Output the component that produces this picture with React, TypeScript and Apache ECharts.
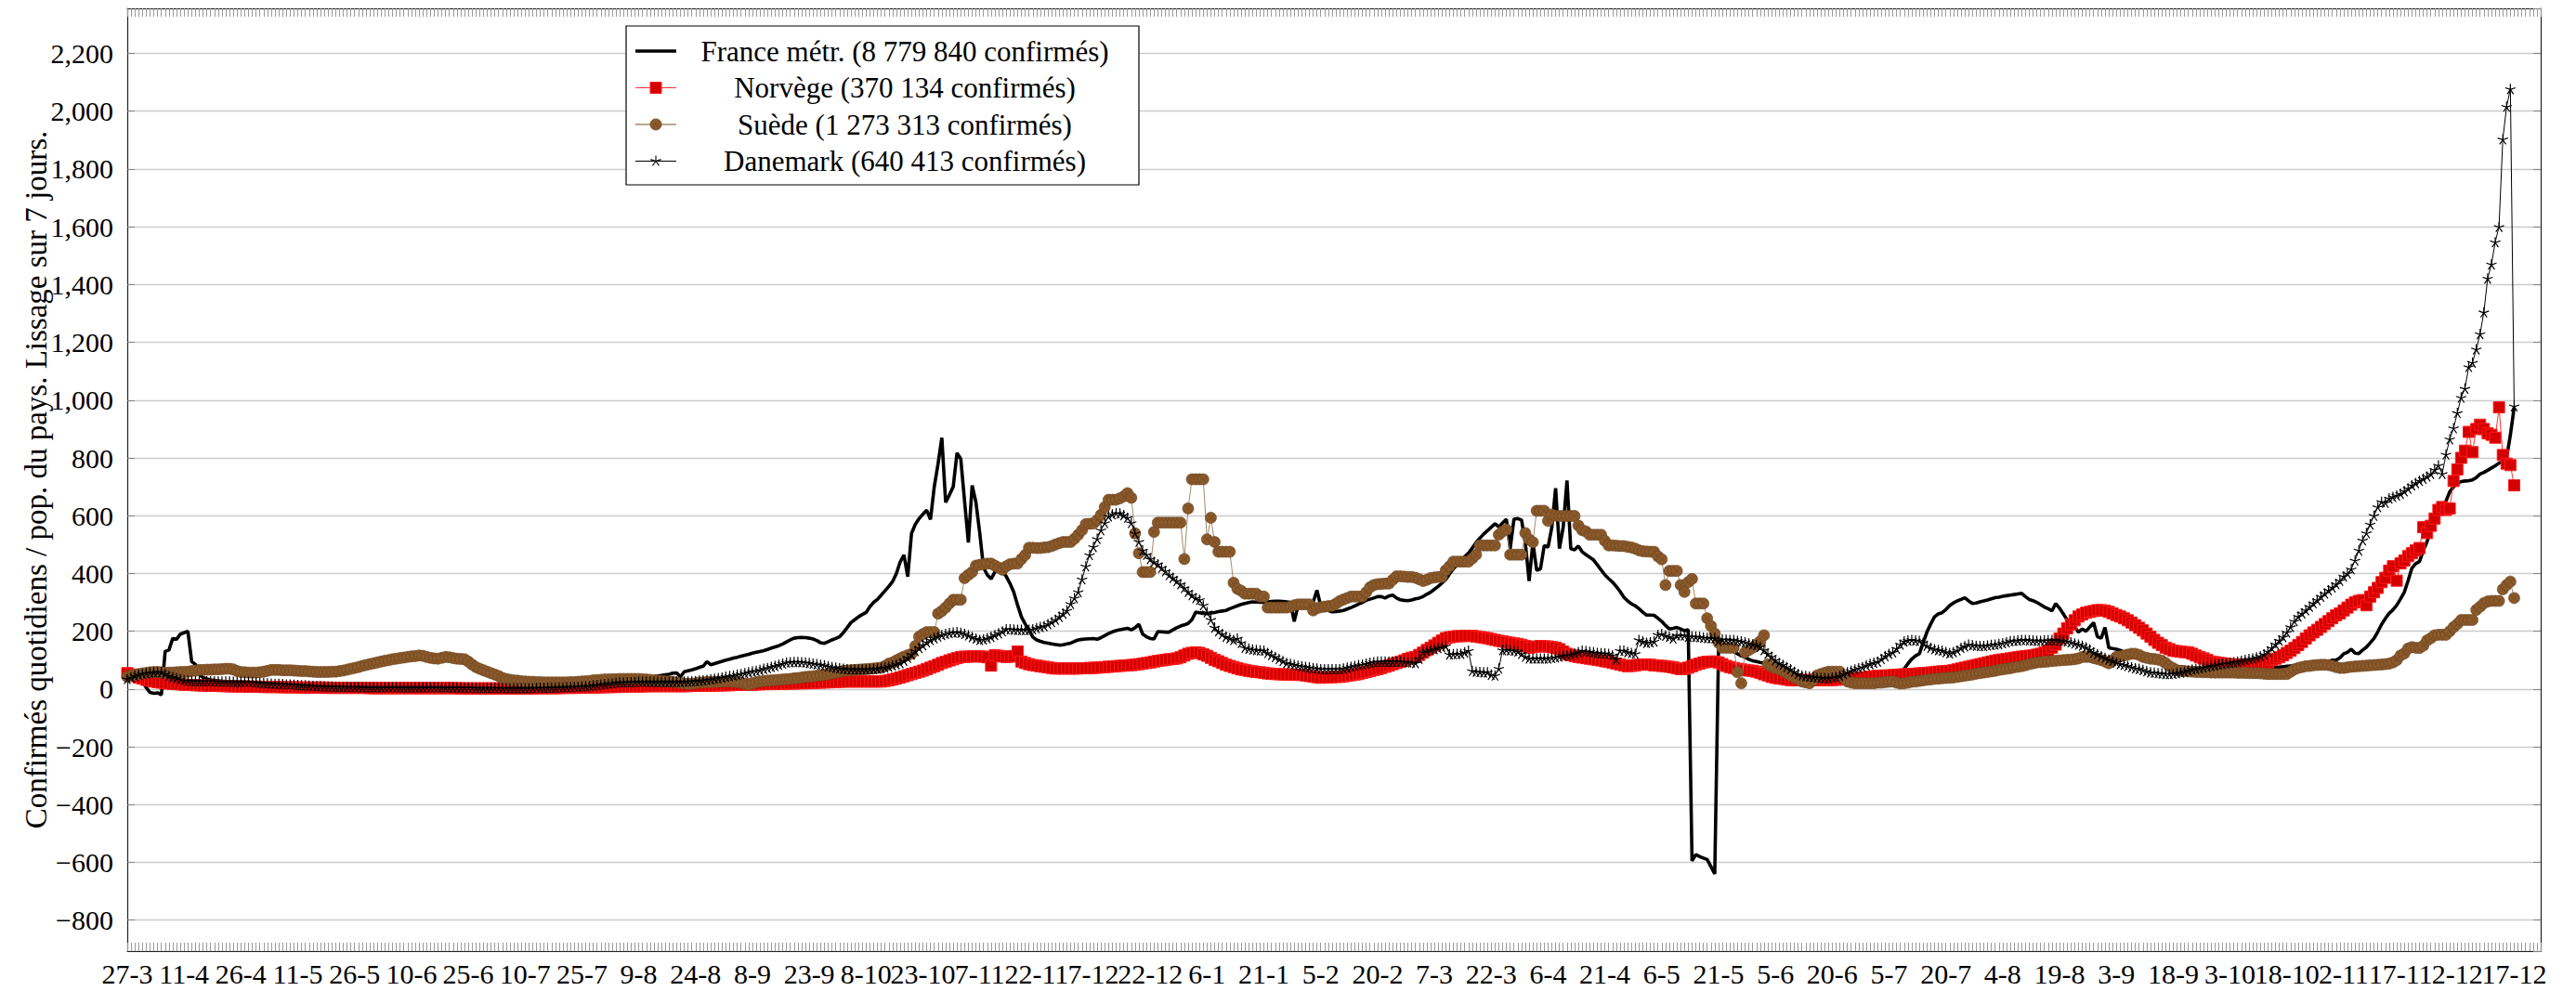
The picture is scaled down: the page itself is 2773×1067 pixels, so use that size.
import React, { useEffect, useRef } from "react";
import * as echarts from "echarts";

// ---------- categories (daily, from 27-3-2020) ----------
const START_UTC = Date.UTC(2020, 2, 27);
const AXIS_DAYS = 638;
const LABEL_EVERY = 15;
const dayLabels: string[] = Array.from({ length: AXIS_DAYS }, (_, i) => {
  const d = new Date(START_UTC + i * 86400000);
  return `${d.getUTCDate()}-${d.getUTCMonth() + 1}`;
});

const seriesNames = [
  "France métr. (8 779 840 confirmés)",
  "Norvège (370 134 confirmés)",
  "Suède (1 273 313 confirmés)",
  "Danemark (640 413 confirmés)",
];
const yAxisTitle = "Confirmés quotidiens / pop. du pays. Lissage sur 7 jours.";

// ---------- series values (one per day, day 0 = 27-3-2020) ----------
const franceValues = [
  50, 62, 45, 30, 25, 5, -12, -15, -13, -20,
  130, 135, 175, 172, 190, 195, 200, 95, 85, 50,
  40, 35, 32, 30, 28, 27, 26, 25, 24, 23,
  22, 21, 20, 20, 19, 18, 18, 17, 16, 16,
  15, 14, 14, 13, 12, 12, 11, 11, 10, 10,
  9, 9, 8, 8, 8, 7, 7, 7, 7, 6,
  6, 6, 6, 6, 6, 6, 6, 5, 5, 5,
  5, 5, 5, 5, 5, 5, 6, 6, 6, 6,
  6, 6, 6, 6, 6, 6, 6, 6, 6, 6,
  7, 7, 7, 7, 8, 8, 8, 8, 9, 9,
  9, 10, 10, 10, 11, 11, 12, 12, 12, 13,
  13, 14, 14, 15, 15, 16, 17, 17, 18, 19,
  20, 21, 22, 23, 24, 25, 26, 27, 28, 29,
  30, 31, 32, 34, 35, 37, 38, 40, 42, 43,
  45, 47, 49, 51, 55, 56, 42, 60, 63, 66,
  70, 75, 79, 95, 84, 88, 92, 96, 100, 103,
  107, 110, 114, 117, 120, 124, 127, 130, 133, 137,
  142, 146, 150, 156, 163, 170, 176, 178, 179, 178,
  176, 173, 168, 160, 158, 164, 170, 175, 181, 195,
  212, 230, 240, 250, 258, 265, 285, 300, 310, 325,
  340, 355, 372, 400, 440, 464, 389, 539, 570, 590,
  605, 619, 587, 700, 780, 870, 646, 672, 700, 817,
  796, 650, 507, 705, 646, 540, 420, 395, 381, 405,
  416, 405, 390, 365, 335, 290, 250, 225, 205, 180,
  170, 165, 161, 159, 156, 154, 152, 153, 156, 159,
  165, 170, 172, 173, 174, 175, 172, 178, 185, 192,
  198, 202, 205, 208, 210, 205, 212, 224, 190, 181,
  175, 173, 199, 198, 197, 197, 205, 212, 218, 222,
  227, 240, 266, 264, 262, 261, 263, 265, 268, 270,
  272, 278, 283, 288, 293, 296, 299, 302, 301, 300,
  300, 302, 303, 304, 304, 303, 302, 300, 234, 288,
  290, 290, 295, 300, 342, 288, 280, 272, 267, 268,
  270, 272, 277, 282, 288, 294, 300, 307, 311, 315,
  320, 320, 315, 322, 325, 315, 309, 307, 306, 308,
  312, 315, 320, 328, 335, 345, 355, 367, 379, 398,
  416, 430, 443, 458, 470, 488, 507, 522, 536, 548,
  560, 572, 561, 575, 588, 486, 588, 590, 585, 507,
  374, 507, 411, 416, 497, 491, 560, 695, 486, 560,
  722, 486, 482, 495, 475, 465, 456, 447, 430, 412,
  395, 382, 370, 355, 338, 318, 305, 295, 288, 278,
  266, 256, 256, 255, 245, 234, 220, 208, 210, 213,
  208, 202, 205, -595, -573, -580, -585, -590, -615, -640,
  135, 140, 140, 135, 130, 122, 115, 110, 103, 98,
  95, 92, 90, 85, 80, 76, 70, 62, 55, 48,
  44, 40, 38, 37, 36, 36, 35, 35, 35, 36,
  36, 36, 37, 37, 38, 38, 39, 40, 41, 43,
  45, 47, 50, 52, 54, 55, 57, 57, 55, 70,
  88, 104, 115, 122, 160, 197, 225, 250, 260, 264,
  275, 289, 298, 305, 310, 316, 305, 296, 298, 302,
  305, 308, 312, 316, 318, 321, 323, 325, 327, 329,
  331, 320, 310, 306, 300, 292, 284, 278, 271, 296,
  280, 260, 240, 232, 215, 197, 208, 200, 215, 230,
  181, 176, 213, 143, 140, 138, 134, 128, 125, 122,
  119, 117, 114, 111, 107, 103, 99, 95, 90, 84,
  81, 78, 77, 75, 73, 72, 71, 70, 69, 69,
  68, 68, 68, 68, 68, 69, 69, 69, 70, 70,
  70, 71, 71, 72, 72, 73, 74, 75, 76, 77,
  79, 80, 81, 82, 83, 84, 85, 86, 87, 88,
  90, 95, 100, 100, 108, 122, 127, 138, 124, 123,
  135, 145, 160, 175, 198, 224, 244, 262, 274, 290,
  312, 335, 375, 418, 434, 441, 479, 510, 550, 585,
  608, 630, 650, 683, 700, 712, 718, 720, 721, 724,
  732, 744, 750, 757, 765, 773, 782, 787, 800, 880,
  975,
];

const norwayValues = [
  55, 50, 45, 40, 36, 32, 29, 26, 24, 22,
  20, 19, 18, 17, 16, 15, 14, 14, 13, 13,
  12, 12, 11, 11, 11, 10, 10, 10, 9, 9,
  9, 9, 8, 8, 8, 8, 7, 7, 7, 7,
  7, 6, 6, 6, 6, 6, 5, 5, 5, 5,
  5, 5, 5, 4, 4, 4, 4, 4, 4, 4,
  4, 4, 4, 4, 3, 3, 3, 3, 3, 3,
  3, 3, 3, 3, 3, 3, 3, 3, 3, 3,
  3, 3, 3, 3, 3, 3, 3, 3, 2, 2,
  2, 2, 2, 2, 2, 2, 2, 2, 2, 2,
  2, 2, 2, 2, 2, 2, 2, 2, 3, 3,
  3, 3, 3, 3, 3, 4, 4, 4, 4, 4,
  5, 5, 5, 5, 6, 6, 6, 7, 7, 7,
  8, 8, 8, 9, 9, 9, 9, 10, 10, 10,
  10, 10, 10, 10, 10, 10, 10, 10, 10, 11,
  11, 11, 11, 12, 12, 12, 12, 13, 13, 13,
  14, 14, 14, 15, 15, 15, 16, 16, 17, 17,
  17, 18, 18, 18, 19, 19, 19, 20, 20, 20,
  21, 21, 22, 22, 23, 23, 24, 24, 25, 26,
  26, 26, 26, 26, 26, 26, 26, 26, 26, 26,
  28, 30, 33, 36, 40, 44, 48, 52, 56, 60,
  64, 69, 74, 79, 84, 90, 94, 99, 103, 107,
  111, 112, 112, 113, 113, 113, 112, 110, 81, 117,
  115, 113, 111, 112, 114, 130, 95, 90, 86, 83,
  81, 79, 77, 75, 73, 71, 71, 71, 71, 71,
  71, 71, 72, 72, 73, 73, 74, 75, 76, 77,
  78, 79, 80, 81, 82, 83, 84, 86, 88, 90,
  92, 95, 97, 99, 101, 103, 104, 106, 110, 116,
  122, 125, 127, 125, 120, 115, 108, 101, 96, 90,
  84, 80, 76, 72, 68, 66, 63, 61, 59, 58,
  56, 54, 53, 52, 51, 51, 50, 50, 49, 49,
  49, 47, 45, 43, 41, 39, 40, 41, 41, 42,
  42, 44, 46, 48, 50, 52, 56, 59, 62, 66,
  69, 73, 77, 81, 86, 90, 94, 99, 104, 108,
  111, 118, 126, 135, 143, 151, 160, 168, 176, 179,
  181, 183, 183, 184, 184, 184, 182, 180, 178, 176,
  173, 170, 167, 165, 162, 160, 158, 156, 153, 149,
  143, 145, 147, 149, 148, 147, 145, 143, 138, 130,
  122, 117, 114, 111, 109, 107, 105, 103, 101, 99,
  96, 94, 91, 88, 85, 82, 79, 80, 82, 84,
  85, 85, 84, 82, 81, 80, 79, 77, 75, 72,
  69, 70, 74, 79, 84, 88, 92, 94, 95, 95,
  92, 86, 80, 76, 73, 70, 68, 66, 64, 63,
  60, 56, 51, 47, 42, 39, 37, 35, 33, 31,
  31, 31, 31, 31, 31, 31, 31, 31, 31, 31,
  31, 32, 33, 34, 35, 36, 37, 38, 40, 41,
  42, 44, 46, 46, 47, 47, 48, 49, 50, 51,
  52, 52, 53, 54, 55, 56, 57, 58, 60, 61,
  62, 63, 65, 68, 71, 74, 77, 80, 83, 86,
  89, 92, 95, 98, 100, 102, 104, 106, 108, 110,
  112, 114, 115, 116, 119, 122, 126, 133, 143, 154,
  175, 192, 210, 224, 238, 251, 258, 264, 267, 270,
  273, 273, 271, 267, 262, 256, 251, 245, 238, 230,
  221, 212, 203, 192, 181, 170, 160, 152, 143, 138,
  133, 131, 129, 128, 127, 122, 116, 111, 106, 101,
  95, 93, 91, 89, 87, 86, 85, 85, 84, 84,
  84, 85, 86, 88, 89, 92, 100, 105, 110, 117,
  125, 133, 142, 152, 163, 175, 186, 196, 205, 215,
  225, 235, 245, 255, 262, 272, 282, 292, 300, 305,
  308, 290, 320, 335, 350, 370, 385, 410, 425, 375,
  435, 445, 460, 470, 480, 488, 560, 540, 565, 590,
  620, 630, 620, 625, 720, 760, 800, 825, 890, 820,
  900, 915, 900, 885, 880, 870, 975, 810, 780, 775,
  705,
];

const swedenValues = [
  42, 46, 49, 52, 54, 56, 58, 59, 59, 58,
  57, 57, 57, 58, 59, 59, 60, 62, 64, 66,
  66, 67, 67, 68, 68, 69, 70, 70, 68, 62,
  59, 58, 57, 57, 57, 58, 60, 63, 66, 66,
  66, 65, 65, 65, 64, 63, 62, 62, 61, 60,
  59, 59, 59, 59, 60, 60, 62, 64, 67, 70,
  73, 76, 80, 83, 86, 89, 92, 95, 98, 100,
  103, 105, 107, 109, 111, 113, 114, 116, 115, 111,
  108, 106, 105, 108, 111, 110, 107, 105, 104, 103,
  95, 85, 76, 70, 65, 60, 55, 50, 45, 38,
  35, 32, 30, 29, 27, 26, 25, 25, 24, 24,
  23, 23, 23, 23, 23, 23, 23, 24, 24, 25,
  26, 27, 28, 30, 31, 32, 33, 33, 34, 34,
  35, 35, 35, 35, 35, 35, 34, 33, 32, 30,
  29, 28, 27, 26, 25, 23, 21, 19, 18, 18,
  20, 22, 23, 24, 24, 25, 25, 26, 26, 26,
  25, 24, 22, 18, 15, 20, 24, 26, 28, 29,
  30, 31, 32, 33, 34, 35, 37, 38, 40, 42,
  43, 44, 46, 47, 49, 51, 54, 57, 60, 63,
  64, 65, 66, 67, 68, 69, 70, 71, 73, 74,
  80, 88, 92, 99, 106, 112, 117, 122, 149, 181,
  190, 197, 197, 197, 261, 270, 282, 296, 309, 309,
  309, 384, 395, 405, 427, 430, 432, 434, 434, 427,
  420, 413, 425, 432, 434, 434, 450, 464, 489, 489,
  488, 488, 490, 491, 495, 500, 505, 509, 509, 509,
  520, 534, 550, 571, 572, 573, 585, 603, 630, 655,
  655, 655, 660, 667, 678, 662, 539, 470, 405, 405,
  405, 544, 576, 576, 576, 576, 576, 576, 576, 450,
  625, 726, 726, 726, 726, 518, 593, 509, 475, 475,
  475, 475, 368, 347, 340, 330, 330, 330, 330, 320,
  320, 282, 282, 282, 282, 282, 282, 285, 290, 293,
  293, 293, 293, 272, 280, 283, 285, 287, 288, 295,
  304, 310, 315, 320, 320, 320, 320, 335, 352, 360,
  363, 364, 365, 365, 378, 390, 390, 389, 388, 388,
  385, 380, 374, 378, 384, 386, 388, 388, 411, 425,
  441, 441, 441, 441, 441, 452, 465, 497, 497, 497,
  497, 497, 534, 545, 552, 465, 465, 465, 465, 540,
  518, 508, 617, 617, 617, 582, 604, 600, 599, 599,
  599, 599, 599, 566, 550, 545, 534, 534, 534, 534,
  513, 497, 497, 496, 495, 495, 492, 490, 486, 480,
  477, 476, 475, 475, 459, 449, 360, 409, 409, 409,
  360, 336, 370, 381, 296, 296, 296, 245, 218, 192,
  160, 143, 143, 143, 143, 58, 20, 127, 135, 143,
  155, 165, 186, 85, 78, 72, 69, 62, 54, 47,
  40, 33, 26, 23, 20, 30, 47, 52, 56, 60,
  60, 60, 60, 40, 26, 22, 20, 20, 20, 20,
  20, 20, 22, 22, 24, 25, 26, 22, 19, 20,
  22, 25, 26, 28, 30, 32, 33, 35, 36, 37,
  38, 39, 40, 42, 44, 46, 48, 50, 53, 55,
  57, 59, 61, 63, 66, 68, 70, 72, 75, 77,
  79, 82, 86, 89, 92, 93, 94, 95, 97, 98,
  99, 100, 101, 102, 103, 106, 111, 111, 111, 107,
  104, 100, 95, 89, 100, 111, 113, 116, 119, 122,
  122, 118, 111, 108, 105, 104, 102, 98, 90, 79,
  72, 65, 63, 62, 61, 60, 59, 59, 58, 58,
  57, 57, 57, 57, 57, 57, 57, 56, 56, 56,
  55, 55, 55, 54, 53, 52, 52, 52, 52, 52,
  52, 60, 68, 73, 76, 79, 80, 82, 83, 84,
  84, 83, 80, 76, 73, 73, 75, 77, 78, 79,
  80, 81, 82, 83, 84, 85, 86, 88, 92, 100,
  116, 123, 140, 145, 143, 142, 150, 168, 176, 186,
  188, 188, 188, 200, 214, 225, 239, 239, 239, 239,
  274, 285, 297, 303, 305, 305, 305, 345, 360, 372,
  315,
];

const denmarkValues = [
  35, 40, 46, 50, 53, 55, 57, 58, 59, 58,
  52, 46, 42, 38, 34, 30, 29, 28, 28, 27,
  27, 27, 27, 27, 26, 26, 26, 26, 25, 25,
  25, 25, 25, 24, 23, 22, 21, 20, 19, 18,
  18, 17, 16, 16, 15, 14, 13, 13, 12, 11,
  10, 10, 9, 9, 9, 8, 8, 8, 7, 7,
  7, 7, 6, 6, 6, 6, 6, 6, 6, 6,
  6, 6, 6, 6, 6, 6, 6, 6, 6, 6,
  6, 6, 6, 6, 6, 6, 5, 5, 5, 5,
  5, 5, 4, 4, 4, 4, 4, 4, 4, 3,
  3, 3, 3, 3, 3, 3, 3, 3, 4, 4,
  4, 5, 5, 5, 6, 6, 7, 7, 8, 8,
  9, 10, 11, 13, 14, 16, 17, 19, 20, 22,
  23, 23, 24, 24, 24, 25, 25, 25, 25, 25,
  25, 25, 25, 25, 25, 25, 25, 26, 26, 27,
  28, 29, 30, 32, 34, 36, 38, 40, 43, 45,
  47, 50, 52, 55, 58, 61, 63, 66, 70, 73,
  77, 80, 84, 88, 92, 93, 94, 94, 93, 92,
  90, 88, 86, 84, 82, 79, 76, 74, 72, 70,
  69, 68, 68, 68, 68, 68, 69, 70, 71, 73,
  75, 78, 82, 86, 90, 98, 108, 120, 132, 142,
  152, 162, 170, 176, 182, 187, 191, 194, 196, 197,
  195, 191, 186, 180, 175, 170, 172, 176, 181, 187,
  193, 200, 207, 207, 206, 205, 205, 205, 205, 207,
  211, 215, 218, 225, 232, 240, 250, 261, 272, 295,
  315, 336, 380, 425, 464, 492, 520, 550, 575, 598,
  605, 609, 608, 602, 593, 575, 539, 510, 480, 465,
  450, 440, 432, 420, 408, 395, 385, 374, 363, 350,
  337, 325, 315, 309, 290, 266, 240, 213, 200, 190,
  181, 176, 170, 175, 160, 143, 140, 137, 135, 134,
  133, 125, 118, 111, 104, 97, 90, 87, 84, 81,
  79, 77, 75, 73, 71, 69, 69, 69, 69, 69,
  69, 71, 74, 77, 80, 83, 85, 88, 91, 93,
  95, 95, 95, 95, 95, 95, 95, 94, 93, 92,
  90, 105, 127, 131, 135, 138, 142, 145, 149, 120,
  121, 122, 122, 127, 133, 63, 60, 59, 58, 58,
  50, 47, 71, 135, 136, 134, 133, 130, 122, 112,
  106, 106, 106, 106, 106, 106, 108, 110, 112, 115,
  117, 120, 124, 128, 133, 131, 129, 127, 125, 124,
  123, 122, 117, 103, 133, 133, 128, 125, 122, 170,
  165, 160, 162, 165, 188, 191, 185, 181, 175, 186,
  186, 186, 181, 182, 181, 180, 178, 177, 176, 176,
  167, 172, 171, 170, 170, 167, 165, 162, 158, 155,
  152, 146, 135, 122, 112, 100, 90, 84, 76, 69,
  60, 52, 47, 45, 43, 42, 40, 39, 38, 37,
  40, 42, 46, 52, 58, 63, 68, 72, 76, 82,
  87, 91, 95, 104, 114, 122, 127, 140, 154, 165,
  168, 170, 168, 167, 160, 150, 143, 138, 135, 133,
  128, 124, 128, 134, 143, 148, 154, 152, 150, 149,
  149, 151, 153, 154, 156, 159, 162, 166, 167, 168,
  170, 170, 169, 168, 167, 167, 168, 169, 170, 170,
  168, 167, 165, 162, 158, 154, 150, 144, 137, 127,
  121, 114, 108, 102, 97, 92, 87, 84, 80, 76,
  72, 70, 66, 62, 58, 57, 55, 54, 52, 52,
  53, 55, 57, 60, 64, 68, 70, 73, 75, 77,
  80, 82, 85, 87, 89, 91, 93, 95, 98, 101,
  104, 106, 110, 114, 120, 130, 142, 155, 168, 180,
  196, 215, 235, 251, 262, 273, 285, 297, 308, 320,
  331, 342, 352, 363, 375, 390, 400, 415, 445, 480,
  515, 540, 570, 600, 630, 648, 645, 660, 665, 670,
  676, 685, 694, 705, 713, 721, 728, 736, 745, 759,
  774, 745, 812, 865, 903, 956, 1009, 1040, 1115, 1130,
  1176, 1229, 1304, 1421, 1470, 1547, 1600, 1903, 2016, 2077,
  979,
];

// ---------- styling ----------
const FONT = '"Liberation Serif", "DejaVu Serif", serif';
const STAR_PATH =
  "path://M0,-10L0,0M9.51,-3.09L0,0M5.88,8.09L0,0M-5.88,8.09L0,0M-9.51,-3.09L0,0";
const OTIMES_PATH =
  "path://M0,10A10,10,0,1,1,0,-10A10,10,0,1,1,0,10ZM-7.07,-7.07L7.07,7.07M-7.07,7.07L7.07,-7.07";

const fmtY = (v: number) => {
  const s = Math.abs(v).toLocaleString("en-US");
  return v < 0 ? "\u2212" + s : s;
};

function buildLegend() {
  const left = 674;
  const top = 28;
  const w = 552;
  const h = 171;
  const rows = [55, 94.5, 134, 173.5];
  const x1 = 684;
  const x2 = 728;
  const cx = (x1 + x2) / 2;
  const textX = 974;
  const els: any[] = [];
  els.push({
    type: "rect",
    shape: { x: left, y: top, width: w, height: h },
    style: { fill: "#fff", stroke: "#000", lineWidth: 1.2 },
    z: 100,
  });
  els.push({
    type: "line",
    shape: { x1, y1: rows[0], x2, y2: rows[0] },
    style: { stroke: "#000", lineWidth: 3.6 },
    z: 101,
  });
  els.push({
    type: "line",
    shape: { x1, y1: rows[1], x2, y2: rows[1] },
    style: { stroke: "#ff3030", lineWidth: 1.2 },
    z: 101,
  });
  els.push({
    type: "rect",
    shape: { x: cx - 6, y: rows[1] - 6, width: 12, height: 12 },
    style: { fill: "#d40000", stroke: "#ff1a1a", lineWidth: 1 },
    z: 102,
  });
  els.push({
    type: "line",
    shape: { x1, y1: rows[2], x2, y2: rows[2] },
    style: { stroke: "#a58a6a", lineWidth: 1.5 },
    z: 101,
  });
  els.push({
    type: "circle",
    shape: { cx, cy: rows[2], r: 6 },
    style: { fill: "#8b5a2b", stroke: "#6e4520", lineWidth: 0.8 },
    z: 102,
  });
  [
    [-4.2, -4.2, 4.2, 4.2],
    [-4.2, 4.2, 4.2, -4.2],
  ].forEach((p) =>
    els.push({
      type: "line",
      shape: { x1: cx + p[0], y1: rows[2] + p[1], x2: cx + p[2], y2: rows[2] + p[3] },
      style: { stroke: "#6e4520", lineWidth: 0.7 },
      z: 103,
    })
  );
  els.push({
    type: "line",
    shape: { x1, y1: rows[3], x2, y2: rows[3] },
    style: { stroke: "#000", lineWidth: 1 },
    z: 101,
  });
  for (let k = 0; k < 5; k++) {
    const a = -Math.PI / 2 + (k * 2 * Math.PI) / 5;
    els.push({
      type: "line",
      shape: { x1: cx, y1: rows[3], x2: cx + 6 * Math.cos(a), y2: rows[3] + 6 * Math.sin(a) },
      style: { stroke: "#000", lineWidth: 1.1 },
      z: 102,
    });
  }
  seriesNames.forEach((name, i) =>
    els.push({
      type: "text",
      x: textX,
      y: rows[i],
      style: {
        text: name,
        font: `31px ${FONT}`,
        fill: "#000",
        align: "center",
        verticalAlign: "middle",
      },
      z: 104,
    })
  );
  return els;
}

export default function App() {
  const ref = useRef<HTMLDivElement>(null);

  useEffect(() => {
    if (!ref.current) return;
    const chart = echarts.init(ref.current, undefined, { renderer: "svg" });

    const xCommon = {
      type: "category" as const,
      data: dayLabels,
      boundaryGap: false,
      axisLine: { show: true, onZero: false, lineStyle: { color: "#222", width: 1.2 } },
      axisTick: {
        show: true,
        interval: 0,
        inside: true,
        length: 9,
        lineStyle: { color: "#9a9a9a", width: 1 },
      },
      splitLine: { show: false },
    };
    const yCommon = {
      type: "value" as const,
      min: -907,
      max: 2356,
      splitNumber: 16,
      axisLine: { show: true, onZero: false, lineStyle: { color: "#222", width: 1.2 } },
      axisTick: { show: true, inside: true, length: 8, lineStyle: { color: "#888", width: 1 } },
    };

    chart.setOption({
      animation: false,
      backgroundColor: "#fff",
      textStyle: { fontFamily: FONT },
      grid: {
        left: 137,
        right: 38,
        top: 9,
        bottom: 43,
        show: false,
        containLabel: false,
        outerBoundsMode: "none",
      },
      xAxis: [
        {
          ...xCommon,
          position: "bottom",
          axisLabel: {
            show: true,
            interval: 0,
            formatter: (value: string, index: number) =>
              index % LABEL_EVERY === 0 ? value : "",
            fontSize: 30,
            fontFamily: FONT,
            color: "#000",
            margin: 9,
            hideOverlap: false,
          },
        },
        {
          ...xCommon,
          position: "top",
          axisLabel: { show: false },
        },
      ],
      yAxis: [
        {
          ...yCommon,
          position: "left",
          name: yAxisTitle,
          nameLocation: "middle",
          nameGap: 82,
          nameMoveOverlap: false,
          nameTextStyle: { fontSize: 33, fontFamily: FONT, color: "#000" },
          axisLabel: {
            show: true,
            fontSize: 30,
            fontFamily: FONT,
            color: "#000",
            margin: 15,
            showMinLabel: false,
            showMaxLabel: false,
            formatter: fmtY,
          },
          splitLine: { show: true, lineStyle: { color: "#cccccc", width: 1.3 } },
        },
        {
          ...yCommon,
          position: "right",
          axisLabel: { show: false },
          splitLine: { show: false },
        },
      ],
      series: [
        {
          name: seriesNames[0],
          type: "line",
          data: franceValues,
          showSymbol: false,
          symbol: "none",
          lineStyle: { color: "#000", width: 3.6 },
          itemStyle: { color: "#000" },
          silent: true,
          z: 2,
        },
        {
          name: seriesNames[1],
          type: "line",
          data: norwayValues,
          symbol: "rect",
          symbolSize: 12,
          showAllSymbol: true,
          lineStyle: { color: "#ff3030", width: 1 },
          itemStyle: { color: "#d40000", borderColor: "#ff1a1a", borderWidth: 1 },
          silent: true,
          z: 3,
        },
        {
          name: seriesNames[2],
          type: "line",
          data: swedenValues,
          symbol: OTIMES_PATH,
          symbolSize: 12,
          showAllSymbol: true,
          lineStyle: { color: "#a58a6a", width: 1 },
          itemStyle: { color: "#8b5a2b", borderColor: "#6e4520", borderWidth: 0.7 },
          silent: true,
          z: 4,
        },
        {
          name: seriesNames[3],
          type: "line",
          data: denmarkValues,
          symbol: STAR_PATH,
          symbolSize: 11,
          showAllSymbol: true,
          lineStyle: { color: "#000", width: 1 },
          itemStyle: { color: "rgba(0,0,0,0)", borderColor: "#000", borderWidth: 1.2 },
          silent: true,
          z: 5,
        },
      ],
      graphic: buildLegend(),
    });

    return () => chart.dispose();
  }, []);

  return (
    <div
      ref={ref}
      style={{ position: "absolute", left: 0, top: 0, width: 2773, height: 1067, background: "#fff" }}
    />
  );
}
